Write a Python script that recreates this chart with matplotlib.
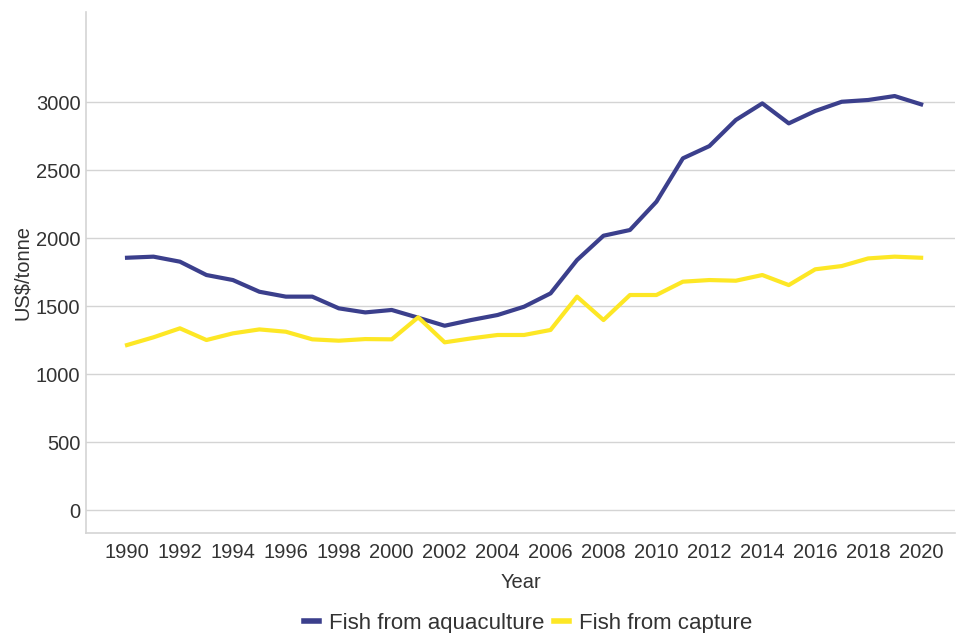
import matplotlib
matplotlib.use("Agg")
import matplotlib.pyplot as plt
from matplotlib.lines import Line2D

plt.rcParams['font.family'] = ['Liberation Sans', 'DejaVu Sans']

years = list(range(1990, 2021))
aquaculture = [1855, 1863, 1826, 1728, 1691, 1605, 1569, 1569, 1483, 1453,
               1471, 1414, 1355, 1397, 1434, 1495, 1593, 1838, 2017, 2059,
               2267, 2586, 2676, 2868, 2990, 2843, 2934, 3002, 3015, 3044, 2983]
capture = [1213, 1270, 1336, 1250, 1299, 1328, 1311, 1255, 1245, 1257,
           1255, 1417, 1233, 1262, 1287, 1287, 1324, 1569, 1397, 1581,
           1581, 1679, 1691, 1686, 1728, 1654, 1770, 1794, 1850, 1863, 1855]
series_names = ["Fish from aquaculture", "Fish from capture"]
yticks = [0, 500, 1000, 1500, 2000, 2500, 3000]
xticks = list(range(1990, 2021, 2))

blue = "#3b3f8c"
yellow = "#fde725"
text_col = "#333333"
grid_col = "#d4d4d4"

fig = plt.figure(figsize=(9.56, 6.33), dpi=100)
ax = fig.add_axes([86/956, 100/633, 869/956, 521/633])

ax.plot(years, aquaculture, color=blue, lw=3.0, solid_joinstyle='round', zorder=3)
ax.plot(years, capture, color=yellow, lw=3.0, solid_joinstyle='round', zorder=3)

ax.set_xlim(1988.45, 2021.28)
ax.set_ylim(-169, 3662)
ax.set_yticks(yticks)
ax.set_xticks(xticks)
ax.set_xticklabels([str(x) for x in xticks])
ax.tick_params(axis='both', length=0, labelsize=14.5, colors=text_col)
ax.tick_params(axis='y', pad=4)
ax.tick_params(axis='x', pad=7)
ax.grid(axis='y', color=grid_col, lw=1)
ax.set_axisbelow(True)
for s in ['top', 'right']:
    ax.spines[s].set_visible(False)
for s in ['left', 'bottom']:
    ax.spines[s].set_color(grid_col)
    ax.spines[s].set_linewidth(1.2)

ax.set_xlabel("Year", fontsize=14.5, color=text_col, labelpad=8)
ax.set_ylabel("US$/tonne", fontsize=14.5, color=text_col, labelpad=3)

handles = [Line2D([], [], color=blue, lw=4), Line2D([], [], color=yellow, lw=4)]
fig.legend(handles, series_names, loc='center', bbox_to_anchor=(528/956, 10/633),
           ncol=2, frameon=False, fontsize=16, handlelength=0.65,
           handletextpad=0.45, columnspacing=0.45, labelcolor=text_col,
           borderpad=0, borderaxespad=0)

fig.savefig("out.png", dpi=100)
